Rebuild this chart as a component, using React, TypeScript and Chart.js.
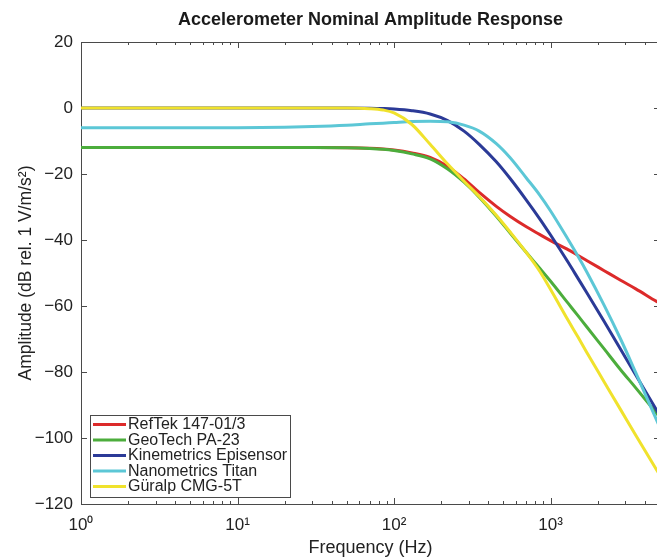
import React, { useEffect, useRef } from 'react';
import { Chart, registerables } from 'chart.js';

Chart.register(...registerables);

// Frequencies (Hz)
const frequencies = [1, 2, 5, 10, 20, 30, 50, 70, 85, 100, 130, 170, 220, 280, 350, 450, 550, 700, 850, 1000, 1300, 1500, 1700, 2200, 2800, 3500, 4750, 5000];

// Amplitude (dB rel. 1 V/m/s^2)
const refTek = [-12, -12, -12, -12, -12, -12, -12.05, -12.2, -12.4, -12.7, -13.6, -15, -17.7, -21.5, -25.6, -29.8, -32.8, -36, -38.3, -40.2, -43, -44.7, -46.2, -49.3, -52.2, -54.8, -58.6, -59.2];
const geoTech = [-12, -12, -12, -12, -12, -12, -12.05, -12.25, -12.5, -12.9, -13.9, -15.4, -18.5, -22.5, -27, -32.8, -37.8, -43.8, -48.5, -52.5, -59.3, -63, -66.3, -73, -79.3, -84.8, -92.5, -93.8];
const kinemetrics = [0, 0, 0, 0, 0, 0, 0, -0.05, -0.15, -0.3, -0.8, -1.8, -3.8, -7, -11, -16.3, -21.3, -27.9, -33.5, -38.5, -46.9, -51.7, -55.9, -64.7, -73.1, -80.9, -91.5, -93.3];
const nanometrics = [-6, -6, -6, -5.95, -5.8, -5.6, -5.2, -4.8, -4.6, -4.4, -4.1, -4.0, -4.2, -5.2, -7, -10.8, -15, -21.2, -26.3, -31.2, -40, -45, -49.6, -59.8, -70, -80.2, -94.5, -96.9];
const guralp = [0, 0, 0, 0, 0, 0, 0, -0.2, -0.6, -1.5, -5, -11, -17, -22.2, -26.8, -32.5, -37.5, -43.8, -49.4, -55, -64.5, -69.5, -74, -83, -91.4, -99.2, -109.6, -111.3];

const seriesLabels = ['RefTek 147-01/3', 'GeoTech PA-23', 'Kinemetrics Episensor', 'Nanometrics Titan', 'Güralp CMG-5T'];
const seriesColors = ['#dc2a2a', '#4cad3c', '#2b3a97', '#5cc7d6', '#f0e22c'];
const seriesValues = [refTek, geoTech, kinemetrics, nanometrics, guralp];

const xTickValues = [1, 10, 100, 1000];
const xTickLabels = ['10⁰', '10¹', '10²', '10³'];
const yMin = -120;
const yMax = 20;
const yStep = 20;

const titleText = 'Accelerometer Nominal Amplitude Response';
const xTitle = 'Frequency (Hz)';
const yTitle = 'Amplitude (dB rel. 1 V/m/s²)';

const FONT = '"Liberation Sans", Arial, Helvetica, sans-serif';
const AXIS_COLOR = '#4a4a4a';

const framePlugin = {
  id: 'matlabFrame',
  beforeDatasetsDraw(chart: any) {
    const { ctx, chartArea: ca, scales } = chart;
    const xs = scales.x;
    const ys = scales.y;
    ctx.save();
    ctx.strokeStyle = AXIS_COLOR;
    ctx.lineWidth = 1;
    ctx.beginPath();
    ctx.rect(Math.round(ca.left) + 0.5, Math.round(ca.top) + 0.5, Math.round(ca.right - ca.left), Math.round(ca.bottom - ca.top));
    ctx.stroke();
    const xmin = xs.min;
    const xmax = xs.max;
    ctx.beginPath();
    for (let d = 1; d <= 10000; d *= 10) {
      for (let m = 1; m < 10; m++) {
        const v = d * m;
        if (v < xmin || v > xmax) continue;
        const px = Math.round(xs.getPixelForValue(v)) + 0.5;
        const len = m === 1 ? 6 : 3;
        ctx.moveTo(px, ca.bottom);
        ctx.lineTo(px, ca.bottom - len);
        ctx.moveTo(px, ca.top);
        ctx.lineTo(px, ca.top + len);
      }
    }
    for (let v = yMin; v <= yMax; v += yStep) {
      const py = Math.round(ys.getPixelForValue(v)) + 0.5;
      ctx.moveTo(ca.left, py);
      ctx.lineTo(ca.left + 6, py);
      ctx.moveTo(ca.right, py);
      ctx.lineTo(ca.right - 6, py);
    }
    ctx.stroke();
    ctx.restore();
  },
  afterDraw(chart: any) {
    const { ctx, chartArea: ca } = chart;
    const bx = Math.round(ca.left) + 9;
    const by = Math.round(ca.bottom) - 89;
    const bw = 200;
    const bh = 82;
    ctx.save();
    ctx.fillStyle = '#ffffff';
    ctx.fillRect(bx, by, bw, bh);
    ctx.strokeStyle = AXIS_COLOR;
    ctx.lineWidth = 1;
    ctx.strokeRect(bx + 0.5, by + 0.5, bw, bh);
    ctx.font = `16px ${FONT}`;
    ctx.textBaseline = 'middle';
    ctx.textAlign = 'left';
    for (let i = 0; i < seriesLabels.length; i++) {
      const y = by + 9.5 + i * 15.5;
      ctx.strokeStyle = seriesColors[i];
      ctx.lineWidth = 3;
      ctx.beginPath();
      ctx.moveTo(bx + 3, y);
      ctx.lineTo(bx + 36, y);
      ctx.stroke();
      ctx.fillStyle = '#222';
      ctx.fillText(seriesLabels[i], bx + 38, y + 0.5);
    }
    ctx.restore();
  },
};

export default function App() {
  const canvasRef = useRef<HTMLCanvasElement | null>(null);

  useEffect(() => {
    if (!canvasRef.current) return;
    Chart.defaults.font.family = FONT;
    Chart.defaults.color = '#222';
    // datasets reversed so the last listed (Güralp) is drawn on top, as in the original
    const datasets = seriesValues
      .map((vals, i) => ({
        label: seriesLabels[i],
        data: frequencies.map((f, j) => ({ x: f, y: vals[j] })),
        borderColor: seriesColors[i],
        backgroundColor: seriesColors[i],
        borderWidth: 3,
        pointRadius: 0,
        fill: false,
        cubicInterpolationMode: 'monotone' as const,
      }))
      .reverse();

    const chart = new Chart(canvasRef.current, {
      type: 'line',
      data: { datasets },
      plugins: [framePlugin],
      options: {
        animation: false,
        responsive: false,
        devicePixelRatio: 1,
        layout: { padding: { left: 0, right: 2, top: 0, bottom: 0 } },
        plugins: {
          legend: { display: false },
          tooltip: { enabled: false },
          title: {
            display: true,
            fullSize: false,
            text: titleText,
            color: '#1a1a1a',
            font: { size: 18, weight: 'bold', family: FONT },
            padding: { top: 9, bottom: 11.4 },
          },
        },
        scales: {
          x: {
            type: 'logarithmic',
            min: 1,
            max: 5000,
            afterFit: (scale: any) => {
              scale.height = 55;
            },
            afterBuildTicks: (scale: any) => {
              scale.ticks = xTickValues.map((v) => ({ value: v }));
            },
            ticks: {
              autoSkip: false,
              maxRotation: 0,
              padding: 11,
              color: '#222',
              font: { size: 17, family: FONT },
              callback: (value: any) => {
                const idx = xTickValues.indexOf(Number(value));
                return idx >= 0 ? xTickLabels[idx] : '';
              },
            },
            grid: { display: false, drawTicks: false },
            border: { display: false },
            title: {
              display: true,
              text: xTitle,
              color: '#222',
              font: { size: 18, family: FONT },
              padding: { top: 0, bottom: 0 },
            },
          },
          y: {
            type: 'linear',
            min: yMin,
            max: yMax,
            afterFit: (scale: any) => {
              scale.width = 81;
            },
            ticks: {
              stepSize: yStep,
              padding: 8,
              color: '#222',
              font: { size: 17, family: FONT },
              callback: (value: any) => String(value).replace('-', '\u2212'),
            },
            grid: { display: false, drawTicks: false },
            border: { display: false },
            title: {
              display: true,
              text: yTitle,
              color: '#222',
              font: { size: 17.5, family: FONT },
              padding: { top: 16, bottom: 0 },
            },
          },
        },
      },
    });
    return () => chart.destroy();
  }, []);

  return (
    <div style={{ position: 'fixed', left: 0, top: 0, width: 657, height: 559, overflow: 'hidden', background: '#fff' }}>
      <canvas ref={canvasRef} width={662} height={559} style={{ display: 'block' }} />
    </div>
  );
}
